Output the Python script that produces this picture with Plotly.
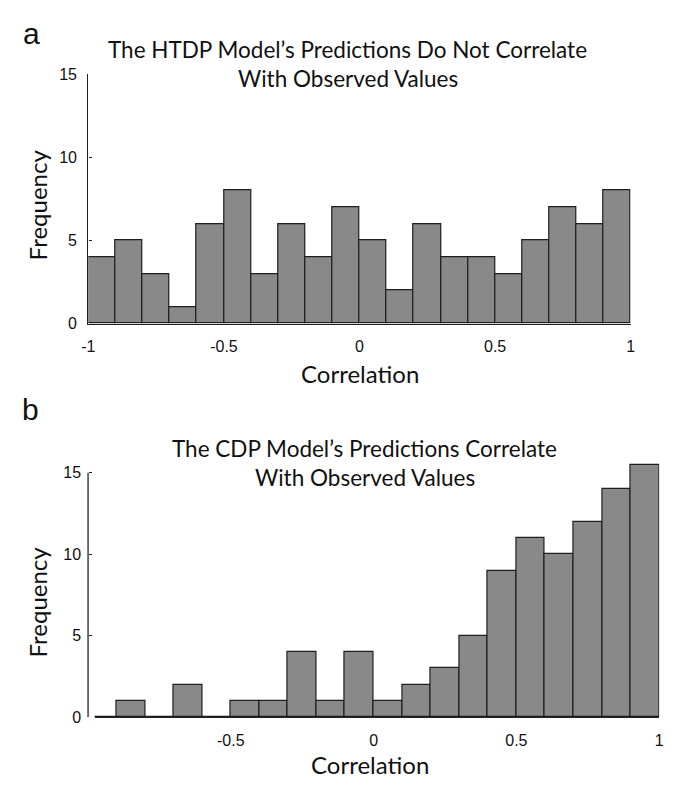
import plotly.graph_objects as go

# ---- data ----
bin_left = [-1.0, -0.9, -0.8, -0.7, -0.6, -0.5, -0.4, -0.3, -0.2, -0.1,
            0.0, 0.1, 0.2, 0.3, 0.4, 0.5, 0.6, 0.7, 0.8, 0.9]
bin_width = 0.1
counts_htdp = [4, 5, 3, 1, 6, 8, 3, 6, 4, 7, 5, 2, 6, 4, 4, 3, 5, 7, 6, 8]
counts_cdp = [0, 1, 0, 2, 0, 1, 1, 4, 1, 4, 1, 2, 3, 5, 9, 11, 10, 12, 14, 15.5]

title_a = ["The HTDP Model\u2019s Predictions Do Not Correlate", "With Observed Values"]
title_b = ["The CDP Model\u2019s Predictions Correlate", "With Observed Values"]
xtick_a = [-1, -0.5, 0, 0.5, 1]
xtick_b = [-0.5, 0, 0.5, 1]
ytick = [0, 5, 10, 15]

# page has an 8px body margin; map window pixel positions to paper coords
OFF = 8
W, H = 676 - OFF, 787 - OFF
def px(x): return (x - OFF) / W
def py(y): return 1 - (y - OFF) / H

centers = [b + bin_width / 2 for b in bin_left]
BAR = dict(color="#898989", line=dict(color="#1e1e1e", width=1.2))

fig = go.Figure()
fig.add_trace(go.Bar(x=centers, y=counts_htdp, width=bin_width, marker=BAR,
                     xaxis="x", yaxis="y"))
fig.add_trace(go.Bar(x=centers, y=counts_cdp, width=bin_width, marker=BAR,
                     xaxis="x2", yaxis="y2"))

TICKFONT = dict(family="Liberation Sans Narrow, Liberation Sans, Arial", size=16, color="#111")
LINE = dict(showline=True, linecolor="#222", linewidth=1.3)

fig.update_layout(
    width=W, height=H, margin=dict(l=0, r=0, t=0, b=0),
    paper_bgcolor="white", plot_bgcolor="white", showlegend=False,
    bargap=0,
    xaxis=dict(domain=[px(82.7), px(635)], range=[-1, 1], anchor="y",
               tickvals=xtick_a, ticktext=[str(v) for v in xtick_a],
               ticks="", showgrid=False, zeroline=False, tickfont=TICKFONT,
               ticklabelstandoff=8, **LINE),
    yaxis=dict(domain=[py(322.5), py(67.5)], range=[0, 15], anchor="x",
               tickvals=ytick, ticks="inside", ticklen=3, tickcolor="#222",
               showgrid=False, zeroline=False, tickfont=TICKFONT,
               ticklabelstandoff=7, **LINE),
    xaxis2=dict(domain=[px(89), px(664)], range=[-0.977, 1], anchor="y2",
                tickvals=xtick_b, ticktext=[str(v) for v in xtick_b],
                ticks="", showgrid=False, zeroline=False, tickfont=TICKFONT,
                ticklabelstandoff=8, **LINE),
    yaxis2=dict(domain=[py(725), py(725 - 15.6 * 16.667)], range=[0, 15.6],
                anchor="free", position=px(82.4),
                tickvals=ytick, ticks="inside", ticklen=3, tickcolor="#222",
                showgrid=False, zeroline=False, showline=False, tickfont=TICKFONT,
                ticklabelstandoff=7),
)

# y axis line of panel b, ending at 15 like the reference
fig.add_shape(type="line", xref="paper", yref="y2", x0=px(82.4), x1=px(82.4),
              y0=0, y1=15, line=dict(color="#222", width=1.3), layer="above")

TFONT = dict(family="Lato, Open Sans, sans-serif", size=22.5, color="#111")
AFONT = dict(family="Lato, Open Sans, sans-serif", size=24, color="#111")
LFONT = dict(family="Liberation Sans, Arial", size=30, color="#111")

def ann(text, x, y, font, angle=0, yanchor="middle"):
    fig.add_annotation(text=text, x=px(x), y=py(y), xref="paper", yref="paper",
                       showarrow=False, xanchor="center", yanchor=yanchor,
                       font=font, textangle=angle, borderpad=0)

ann("a", 25, OFF, LFONT, yanchor="top")
ann("b", 24, 410, LFONT)
ann(title_a[0], 347, 42, TFONT)
ann(title_a[1], 347, 72, TFONT)
ann(title_b[0], 364, 450, TFONT)
ann(title_b[1], 364, 480, TFONT)
ann("Correlation", 359, 373, AFONT)
ann("Correlation", 370, 773, AFONT)
ann("Frequency", 31, 201, AFONT, -90)
ann("Frequency", 31, 607, AFONT, -90)

fig.write_html("out.html")
